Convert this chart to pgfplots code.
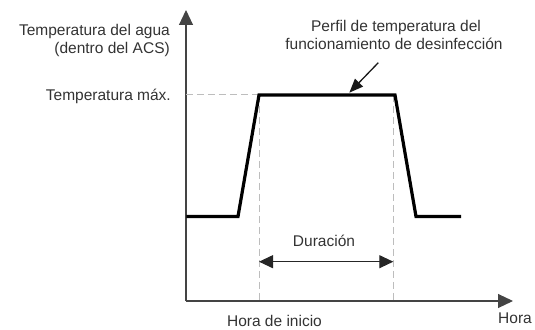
\documentclass[border=0pt]{standalone}
\usepackage{pgfplots}
\pgfplotsset{compat=1.18}
\usepackage{fontspec}
\setmainfont{Liberation Sans}
\usetikzlibrary{arrows.meta}
\definecolor{txt}{HTML}{333333}
\definecolor{axcol}{HTML}{444444}
\definecolor{dashcol}{HTML}{BDBDBD}
\newcommand\lf{\fontsize{15.5bp}{18bp}\selectfont}
\tikzset{lab/.style={font=\lf, text=txt, inner sep=0pt}}
\begin{document}
\begin{tikzpicture}
\begin{axis}[
  scale only axis,
  width=327bp, height=291bp,
  xmin=186, xmax=513, ymin=29, ymax=320,
  axis lines=left,
  axis line style={draw=axcol, line width=1.1bp, -{Triangle[length=15bp,width=14bp]}},
  xtick=\empty, ytick=\empty,
  clip=false,
]
% dashed guides
\addplot[dashcol, line width=1bp, dash pattern=on 7bp off 4bp] coordinates {(186,235) (259,235)};
\addplot[dashcol, line width=1bp, dash pattern=on 7bp off 4bp] coordinates {(259,235) (259,29)};
\addplot[dashcol, line width=1bp, dash pattern=on 7bp off 4bp] coordinates {(393.3,235) (393.3,29)};
% temperature profile
\addplot[black, line width=3.2bp, line join=miter] coordinates {
  (186.5,113.5) (238,113.5) (259,235) (395,235) (416,113.5) (461,113.5)};
% duration arrow
\addplot[black!85, line width=1.1bp, {Triangle[length=14bp,width=13bp]}-{Triangle[length=14bp,width=13bp]}] coordinates {(259,68.3) (393.3,68.3)};
% pointer arrow
\addplot[black!90, line width=1.3bp, -{Triangle[length=14bp,width=11bp]}] coordinates {(378.3,267.3) (349.3,237.3)};
% labels
\node[lab, anchor=base east] at (axis cs:170,294) {Temperatura del agua};
\node[lab, anchor=base east] at (axis cs:170,276.7) {(dentro del ACS)};
\node[lab, anchor=base east] at (axis cs:171,229.5) {Temperatura máx.};
\node[lab, anchor=base] at (axis cs:396,298.5) {Perfil de temperatura del};
\node[lab, anchor=base] at (axis cs:394,280) {funcionamiento de desinfección};
\node[lab, anchor=base] at (axis cs:324,84) {Duración};
\node[lab, anchor=base] at (axis cs:274.5,3.5) {Hora de inicio};
\node[lab, anchor=base west] at (axis cs:498,7) {Hora};
\coordinate (bl) at (axis cs:0,0);
\coordinate (tr) at (axis cs:535,330);
\end{axis}
\pgfresetboundingbox
\path (bl) rectangle (tr);
\end{tikzpicture}
\end{document}
